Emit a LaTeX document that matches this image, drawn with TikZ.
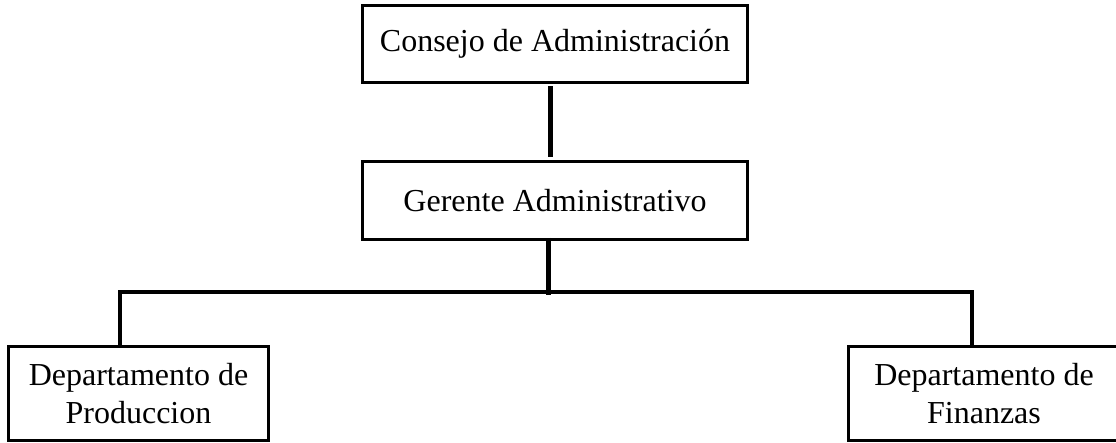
\documentclass[tikz,border=0pt]{standalone}
\usepackage{fontspec}
\setmainfont{Liberation Serif}
\begin{document}
\begin{tikzpicture}[x=1pt,y=-1pt,
  orgbox/.style={draw=black, line width=3pt, inner sep=0pt, align=center,
    font=\fontsize{32}{38}\selectfont},
  link/.style={draw=black, line width=4.5pt}]
\useasboundingbox (0,0) rectangle (1116,442);
\node[orgbox, minimum width=385pt, minimum height=77pt] (b1) at (555,43.5) {Consejo de Administración};
\node[orgbox, minimum width=385pt, minimum height=78pt] (b2) at (555,200.3) {Gerente Administrativo};
\node[orgbox, minimum width=260pt, minimum height=93.5pt] (lb) at (138.5,393.3) {Departamento de\\Produccion};
\node[orgbox, minimum width=272pt, minimum height=93.5pt] (rb) at (984,393.3) {Departamento de\\Finanzas};
\coordinate (j) at (548.3,292);
\coordinate (jl) at (119.5,292);
\coordinate (jr) at (971.5,292);
\draw[link, line width=5pt, shorten <=2.5pt, shorten >=2.5pt] (b1.south -| 550,0) -- (b2.north -| 550,0);
\draw[link] ([yshift=3pt]b2.south -| j) -- ([yshift=-3pt]j);
\draw[link, line width=4pt, line join=miter] (lb.north -| jl) -- (jl) -- (jr) -- (rb.north -| jr);
\end{tikzpicture}
\end{document}
